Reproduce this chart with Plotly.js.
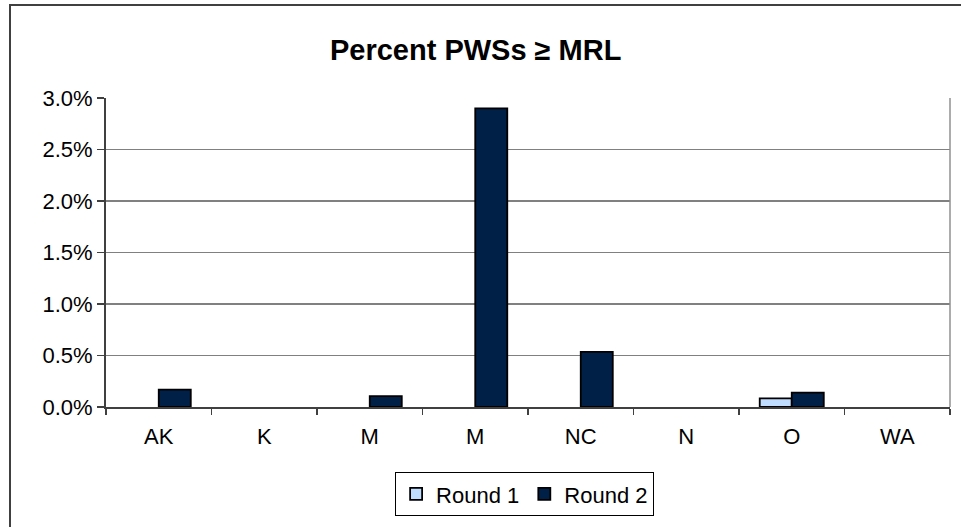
<!DOCTYPE html>
<html>
<head>
<meta charset="utf-8">
<script src="https://cdn.plot.ly/plotly-3.0.1.min.js"></script>
<style>
html,body{margin:0;padding:0;background:#fff;}
#wrap{position:relative;width:961px;height:527px;overflow:hidden;}
#chart{width:961px;height:527px;}
#frame{position:absolute;left:9px;top:4px;width:1000px;height:521px;border-left:2px solid #404040;border-top:2px solid #404040;border-bottom:1px solid #a0a0a0;pointer-events:none;}
</style>
</head>
<body>
<div id="wrap"><div id="chart"></div><div id="frame"></div></div>
<script>
const categories = ["AK", "K", "M", "M", "NC", "N", "O", "WA"];
const round1 = [0, 0, 0, 0, 0, 0, 0.00084, 0];
const round2 = [0.00168, 0, 0.00106, 0.0290, 0.00536, 0, 0.0014, 0];
const seriesNames = ["Round 1", "Round 2"];
const yTickVals = [0, 0.005, 0.01, 0.015, 0.02, 0.025, 0.03];
const yTickText = ["0.0%", "0.5%", "1.0%", "1.5%", "2.0%", "2.5%", "3.0%"];

const idx = categories.map((c, i) => i);
const font = "Liberation Sans, Arial, sans-serif";
// zero values are drawn as no bar at all, as in the original
const shown = vals => vals.map(v => (v > 0 ? v : null));

const traces = [
  {type: "bar", name: seriesNames[0], x: idx, y: shown(round1),
   marker: {color: "#c0dcff", line: {color: "#000000", width: 1.8}}},
  {type: "bar", name: seriesNames[1], x: idx, y: shown(round2),
   marker: {color: "#002048", line: {color: "#000000", width: 1.8}}}
];

const layout = {
  width: 961, height: 527,
  margin: {l: 106, r: 11, t: 98, b: 120, pad: 0},
  paper_bgcolor: "#ffffff", plot_bgcolor: "#ffffff",
  font: {family: font, color: "#000000", size: 22},
  title: {text: "<b>Percent PWSs ≥ MRL</b>", x: 0.495, xanchor: "center", y: 0.905, yanchor: "middle",
          font: {family: font, size: 29, color: "#000000"}},
  barmode: "group", bargap: 0.393, bargroupgap: 0,
  showlegend: true,
  legend: {orientation: "h", x: 0.496, xanchor: "center", y: -0.282, yanchor: "middle",
           bordercolor: "#000000", borderwidth: 1, font: {family: font, size: 22, color: "#000000"},
           itemwidth: 30, tracegroupgap: 0},
  xaxis: {range: [-0.5, 7.5], tickmode: "array", tickvals: idx, ticktext: categories,
          ticks: "", showgrid: false, zeroline: false, showline: true, linecolor: "#404040", linewidth: 2,
          tickfont: {family: font, size: 22, color: "#000000"}, ticklabelstandoff: 9,
          minor: {tickmode: "linear", tick0: -0.5, dtick: 1, ticks: "outside", ticklen: 6, tickwidth: 1.5, tickcolor: "#404040", showgrid: false},
          mirror: false, fixedrange: true},
  yaxis: {range: [0, 0.03], tickmode: "array", tickvals: yTickVals, ticktext: yTickText,
          ticks: "outside", ticklen: 7, tickwidth: 1.5, tickcolor: "#404040",
          showgrid: true, gridcolor: "#808080", gridwidth: 1.2, zeroline: false,
          showline: true, linecolor: "#404040", linewidth: 2,
          tickfont: {family: font, size: 22, color: "#000000"}, fixedrange: true},
  shapes: [
    {type: "line", xref: "paper", yref: "paper", x0: 1, x1: 1, y0: 0, y1: 1, line: {color: "#909090", width: 1.5}}
  ]
};

Plotly.newPlot("chart", traces, layout, {displayModeBar: false, staticPlot: true});
</script>
</body>
</html>
